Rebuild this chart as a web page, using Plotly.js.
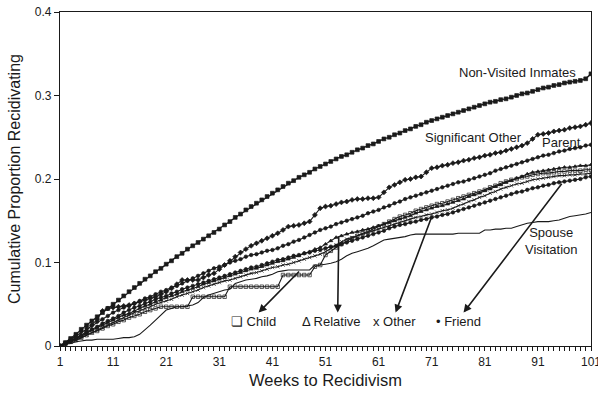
<!DOCTYPE html>
<html><head><meta charset="utf-8">
<script src="https://cdn.plot.ly/plotly-3.0.1.min.js"></script>
<style>html,body{margin:0;padding:0;background:#fff;overflow:hidden}#chart{width:598px;height:398px}</style>
</head><body><div id="chart"></div>
<script>
const weeks = [1,2,3,4,5,6,7,8,9,10,11,12,13,14,15,16,17,18,19,20,21,22,23,24,25,26,27,28,29,30,31,32,33,34,35,36,37,38,39,40,41,42,43,44,45,46,47,48,49,50,51,52,53,54,55,56,57,58,59,60,61,62,63,64,65,66,67,68,69,70,71,72,73,74,75,76,77,78,79,80,81,82,83,84,85,86,87,88,89,90,91,92,93,94,95,96,97,98,99,100,101];

const nonVisited = [0.000,0.004,0.009,0.014,0.020,0.025,0.030,0.035,0.040,0.045,0.050,0.055,0.060,0.065,0.070,0.075,0.080,0.084,0.089,0.093,0.098,0.102,0.107,0.111,0.116,0.120,0.124,0.128,0.132,0.136,0.140,0.145,0.149,0.154,0.158,0.163,0.167,0.171,0.175,0.179,0.183,0.187,0.191,0.195,0.198,0.202,0.205,0.208,0.212,0.215,0.218,0.221,0.224,0.227,0.229,0.232,0.235,0.237,0.240,0.242,0.245,0.248,0.250,0.253,0.255,0.258,0.260,0.263,0.265,0.268,0.270,0.272,0.274,0.276,0.278,0.280,0.282,0.284,0.286,0.288,0.290,0.292,0.293,0.295,0.296,0.298,0.300,0.302,0.303,0.305,0.307,0.309,0.310,0.312,0.313,0.315,0.316,0.317,0.318,0.320,0.326];

const significantOther = [0.000,0.003,0.006,0.009,0.012,0.018,0.025,0.032,0.042,0.045,0.046,0.047,0.048,0.049,0.051,0.053,0.055,0.057,0.059,0.062,0.065,0.069,0.074,0.079,0.079,0.079,0.079,0.082,0.085,0.087,0.092,0.097,0.102,0.107,0.112,0.116,0.120,0.123,0.126,0.129,0.132,0.135,0.139,0.143,0.144,0.145,0.147,0.149,0.157,0.165,0.167,0.168,0.170,0.172,0.173,0.175,0.176,0.176,0.177,0.177,0.178,0.184,0.190,0.193,0.196,0.199,0.200,0.202,0.203,0.208,0.213,0.214,0.216,0.217,0.219,0.220,0.222,0.223,0.225,0.226,0.228,0.229,0.231,0.232,0.234,0.236,0.238,0.240,0.243,0.248,0.253,0.254,0.255,0.257,0.258,0.259,0.261,0.262,0.263,0.265,0.267];

const parent = [0.000,0.004,0.008,0.013,0.017,0.021,0.025,0.029,0.032,0.036,0.040,0.043,0.046,0.048,0.051,0.054,0.057,0.059,0.062,0.065,0.067,0.070,0.072,0.075,0.078,0.081,0.084,0.087,0.090,0.093,0.095,0.097,0.100,0.102,0.104,0.107,0.109,0.110,0.112,0.114,0.115,0.117,0.120,0.122,0.125,0.127,0.130,0.133,0.136,0.139,0.141,0.143,0.146,0.148,0.150,0.152,0.154,0.156,0.159,0.161,0.163,0.166,0.168,0.171,0.173,0.176,0.178,0.180,0.182,0.184,0.186,0.188,0.190,0.192,0.194,0.196,0.197,0.199,0.201,0.203,0.205,0.207,0.210,0.212,0.214,0.216,0.218,0.220,0.222,0.224,0.226,0.228,0.229,0.231,0.233,0.234,0.236,0.237,0.238,0.240,0.241];

const relative = [0.000,0.003,0.006,0.009,0.012,0.015,0.019,0.022,0.025,0.028,0.031,0.034,0.037,0.039,0.042,0.045,0.048,0.050,0.053,0.055,0.058,0.060,0.062,0.065,0.067,0.069,0.071,0.074,0.076,0.078,0.080,0.082,0.084,0.086,0.088,0.090,0.092,0.093,0.095,0.097,0.099,0.101,0.102,0.104,0.106,0.108,0.111,0.113,0.116,0.118,0.122,0.126,0.130,0.132,0.134,0.136,0.137,0.139,0.140,0.142,0.144,0.146,0.148,0.150,0.152,0.154,0.156,0.159,0.161,0.163,0.165,0.167,0.168,0.170,0.172,0.174,0.176,0.179,0.181,0.183,0.186,0.188,0.191,0.193,0.196,0.198,0.201,0.203,0.206,0.208,0.209,0.210,0.211,0.212,0.213,0.214,0.214,0.215,0.216,0.216,0.217];

const other = [0.000,0.002,0.005,0.007,0.010,0.013,0.016,0.019,0.022,0.025,0.028,0.031,0.034,0.037,0.040,0.042,0.045,0.047,0.050,0.052,0.054,0.056,0.059,0.061,0.063,0.065,0.067,0.070,0.072,0.074,0.076,0.078,0.079,0.081,0.083,0.085,0.087,0.088,0.090,0.092,0.094,0.095,0.097,0.098,0.100,0.102,0.104,0.106,0.108,0.110,0.113,0.117,0.121,0.125,0.128,0.130,0.132,0.134,0.136,0.138,0.140,0.142,0.144,0.146,0.148,0.150,0.152,0.154,0.155,0.157,0.158,0.160,0.162,0.163,0.165,0.168,0.170,0.173,0.175,0.178,0.180,0.183,0.185,0.188,0.190,0.192,0.194,0.195,0.197,0.199,0.200,0.201,0.202,0.203,0.204,0.204,0.205,0.205,0.206,0.206,0.207];

const friend = [0.000,0.003,0.006,0.010,0.013,0.016,0.020,0.023,0.027,0.030,0.033,0.036,0.040,0.043,0.046,0.048,0.051,0.053,0.056,0.058,0.060,0.063,0.065,0.068,0.070,0.072,0.074,0.076,0.078,0.080,0.082,0.084,0.086,0.088,0.090,0.092,0.094,0.095,0.097,0.099,0.101,0.103,0.104,0.106,0.108,0.109,0.111,0.112,0.114,0.115,0.117,0.119,0.120,0.122,0.124,0.126,0.128,0.130,0.132,0.134,0.136,0.138,0.141,0.143,0.145,0.146,0.148,0.149,0.151,0.152,0.154,0.155,0.157,0.158,0.160,0.162,0.164,0.166,0.168,0.170,0.172,0.174,0.176,0.178,0.180,0.182,0.184,0.185,0.187,0.189,0.190,0.192,0.193,0.195,0.196,0.197,0.198,0.199,0.200,0.202,0.203];

const child = [0.000,0.002,0.005,0.007,0.010,0.013,0.016,0.018,0.021,0.024,0.026,0.029,0.031,0.034,0.036,0.038,0.041,0.043,0.045,0.047,0.047,0.047,0.047,0.047,0.047,0.059,0.059,0.059,0.059,0.059,0.059,0.059,0.071,0.071,0.071,0.071,0.071,0.071,0.071,0.071,0.071,0.071,0.085,0.085,0.085,0.085,0.085,0.085,0.095,0.097,0.109,0.114,0.118,0.122,0.126,0.129,0.132,0.135,0.137,0.140,0.143,0.146,0.149,0.152,0.155,0.157,0.159,0.162,0.164,0.166,0.168,0.170,0.171,0.173,0.175,0.177,0.179,0.181,0.183,0.185,0.187,0.190,0.192,0.195,0.197,0.199,0.200,0.202,0.203,0.205,0.206,0.207,0.207,0.208,0.209,0.209,0.210,0.210,0.210,0.211,0.211];

const spouse = [0.000,0.002,0.003,0.005,0.006,0.007,0.007,0.008,0.008,0.008,0.008,0.009,0.010,0.010,0.011,0.014,0.019,0.025,0.031,0.037,0.043,0.045,0.047,0.047,0.048,0.049,0.052,0.058,0.061,0.063,0.065,0.067,0.068,0.075,0.077,0.079,0.080,0.081,0.083,0.084,0.086,0.089,0.090,0.091,0.091,0.091,0.091,0.091,0.097,0.097,0.098,0.099,0.101,0.104,0.108,0.111,0.113,0.115,0.117,0.120,0.124,0.127,0.128,0.129,0.130,0.131,0.133,0.134,0.134,0.134,0.134,0.134,0.134,0.134,0.134,0.135,0.135,0.135,0.135,0.135,0.139,0.139,0.140,0.140,0.141,0.141,0.143,0.145,0.147,0.148,0.149,0.149,0.149,0.150,0.151,0.153,0.155,0.156,0.157,0.158,0.160];

const xTickVals = [1,11,21,31,41,51,61,71,81,91,101];
const yTickVals = [0,0.1,0.2,0.3,0.4];

// annotation label texts
const curveLabels = ["Non-Visited Inmates","Significant Other","Parent","Spouse<br>Visitation"];
const legendLabels = ["\u274F Child","\u0394 Relative","x Other","\u2022 Friend"];

const ink = '#1a1a1a';
function tr(y, sym, size, lw) {
  return {x: weeks, y: y, type: 'scatter', mode: sym ? 'lines+markers' : 'lines',
    line: {color: ink, width: lw || 1}, marker: {symbol: sym, size: size, color: ink, line:{color:ink,width:0.7}},
    hoverinfo: 'skip', cliponaxis: true};
}
const data = [
  tr(spouse, null, 0, 1.1),
  tr(child, 'square-open', 3.5, 1.1),
  tr(friend, 'circle', 3.5, 1.1),
  tr(other, 'x-thin-open', 3.5, 1.1),
  tr(relative, 'triangle-up', 3.5, 1.1),
  tr(parent, 'circle', 3.5, 1.1),
  tr(significantOther, 'diamond', 3.8, 1.1),
  tr(nonVisited, 'square', 3.8, 1.3)
];

const F = 'Liberation Sans, Arial, sans-serif';
function lab(text, x, y, xa) {
  return {text: text, x: x, y: y, xref: 'x', yref: 'y', showarrow: false, xanchor: xa || 'center', yanchor: 'middle',
    font: {family: F, size: 13, color: ink}};
}
function arr(hx, hy, tx, ty) {
  return {text: '', x: hx, y: hy, ax: tx, ay: ty, xref: 'x', yref: 'y', axref: 'x', ayref: 'y',
    showarrow: true, arrowhead: 2, arrowsize: 1, arrowwidth: 1.6, arrowcolor: ink, standoff: 0, startstandoff: 0};
}
const annotations = [
  lab(curveLabels[0], 87.2, 0.327),
  lab(curveLabels[1], 78.8, 0.250),
  lab(curveLabels[2], 95.4, 0.244),
  lab(curveLabels[3], 93.6, 0.126),
  lab(legendLabels[0], 37.4, 0.029),
  lab(legendLabels[1], 52.2, 0.029),
  lab(legendLabels[2], 63.9, 0.029),
  lab(legendLabels[3], 76.0, 0.029),
  arr(38.4, 0.040, 46.3, 0.091),
  arr(53.3, 0.040, 53.5, 0.133),
  arr(64.2, 0.040, 71.2, 0.158),
  arr(77.0, 0.040, 95.7, 0.196)
];

const layout = {
  width: 598, height: 398,
  margin: {l: 60, r: 7, t: 12, b: 52},
  paper_bgcolor: '#fff', plot_bgcolor: '#fff',
  showlegend: false,
  font: {family: F, color: ink, size: 12},
  xaxis: {range: [1, 101], tickmode: 'array', tickvals: xTickVals, ticktext: xTickVals.map(String),
    ticks: 'outside', ticklen: 4, tickwidth: 1, tickcolor: ink, ticklabeloverflow: 'allow',
    minor: {tickmode: 'linear', tick0: 1, dtick: 1, ticks: 'outside', ticklen: 4, tickwidth: 1, tickcolor: ink},
    showline: true, linecolor: ink, linewidth: 1.2, mirror: true, showgrid: false, zeroline: false,
    tickfont: {family: F, size: 12, color: ink},
    title: {text: 'Weeks to Recidivism', font: {family: F, size: 16.5, color: ink}, standoff: 6},
    automargin: false},
  yaxis: {range: [0, 0.4], tickmode: 'array', tickvals: yTickVals, ticktext: ['0','0.1','0.2','0.3','0.4'],
    ticks: 'outside', ticklen: 5, tickwidth: 1, tickcolor: ink,
    showline: true, linecolor: ink, linewidth: 1.2, mirror: true, showgrid: false, zeroline: false,
    tickfont: {family: F, size: 12, color: ink},
    title: {text: 'Cumulative Proportion Recidivating', font: {family: F, size: 16, color: ink}, standoff: 10},
    automargin: false},
  annotations: annotations
};
Plotly.newPlot('chart', data, layout, {staticPlot: true, displayModeBar: false});
</script></body></html>
